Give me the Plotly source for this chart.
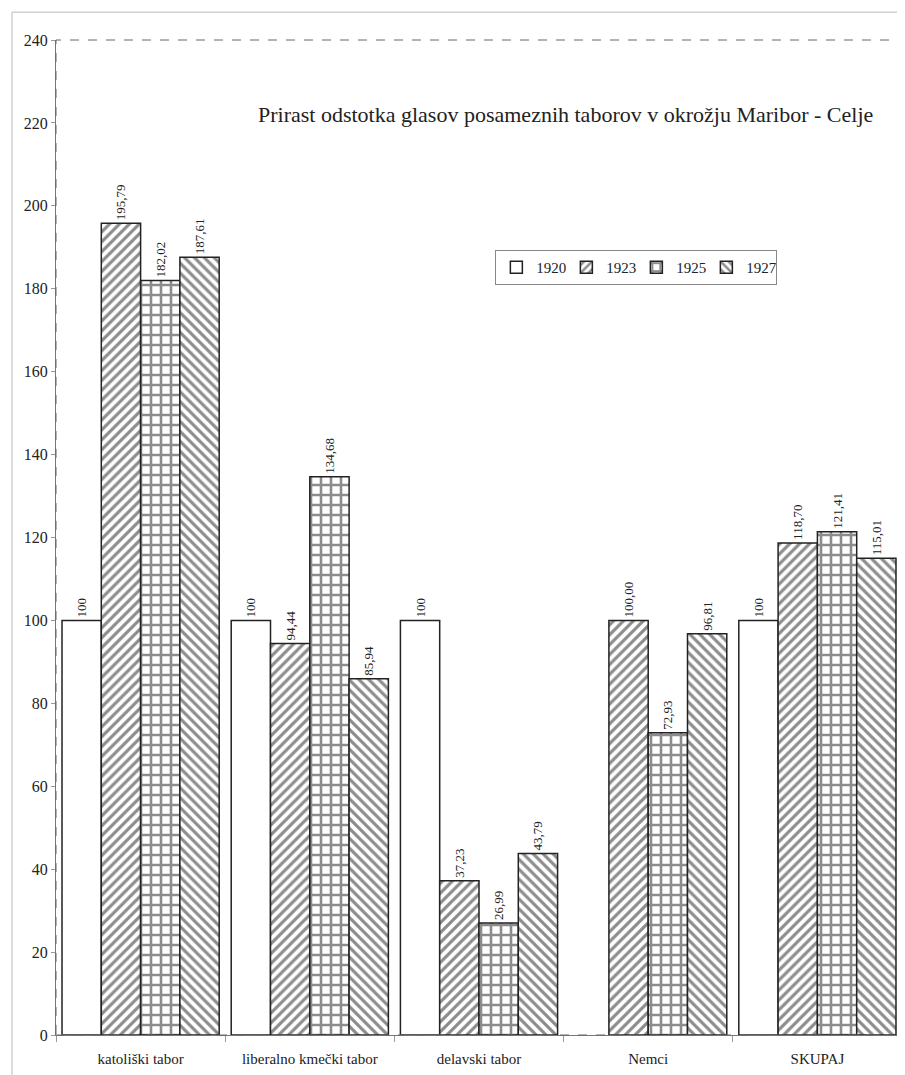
import plotly.graph_objects as go

categories = ["katoliški tabor", "liberalno kmečki tabor", "delavski tabor", "Nemci", "SKUPAJ"]
years = ["1920", "1923", "1925", "1927"]
v1920 = [100, 100, 100, None, 100]
v1923 = [195.79, 94.44, 37.23, 100.00, 118.70]
v1925 = [182.02, 134.68, 26.99, 72.93, 121.41]
v1927 = [187.61, 85.94, 43.79, 96.81, 115.01]
series = [v1920, v1923, v1925, v1927]
shapes_pat = ["", "/", "+", "\\"]
pat_size = [8, 7, 10, 7]

FONT = "Liberation Serif"

def fmt(v, year):
    if v is None:
        return ""
    if year == "1920":
        return f"{v:g}"
    return f"{v:.2f}".replace(".", ",")

fig = go.Figure()
for yr, vals, sh, ps in zip(years, series, shapes_pat, pat_size):
    fig.add_trace(go.Bar(
        name=yr, x=categories, y=vals,
        text=[fmt(v, yr) for v in vals],
        textposition="outside", textangle=-90,
        textfont=dict(family=FONT, size=13, color="#222"),
        cliponaxis=False,
        marker=dict(color="white",
                    line=dict(color="#222", width=1.5),
                    pattern=dict(shape=sh, fgcolor="#1a1a1a", bgcolor="white",
                                 size=ps, solidity=0.45)),
    ))

fig.update_layout(
    width=905, height=1075,
    margin=dict(l=48, r=11, t=32, b=47.5, autoexpand=False),
    paper_bgcolor="white", plot_bgcolor="white",
    barmode="group", bargap=0.071, bargroupgap=0,
    font=dict(family=FONT, size=15, color="#222"),
    showlegend=True,
    legend=dict(orientation="h", x=0.686, y=0.789, xanchor="center", yanchor="top",
                bordercolor="#888", borderwidth=1, bgcolor="white",
                font=dict(family=FONT, size=15, color="#222"),
                itemwidth=30, entrywidth=25, entrywidthmode="pixels", tracegroupgap=0),
    xaxis=dict(showgrid=False, ticks="outside", tickson="boundaries", ticklen=6,
               tickcolor="#999", showline=True, linecolor="#777", ticklabelstandoff=10,
               tickfont=dict(family=FONT, size=15, color="#222")),
    yaxis=dict(range=[0, 240], dtick=20, showgrid=False, ticks="outside", ticklen=4,
               tickcolor="#999", showline=True, linecolor="#777", zeroline=False,
               tickfont=dict(family=FONT, size=16, color="#222")),
    shapes=[
        dict(type="rect", xref="paper", yref="paper", x0=0, x1=1, y0=0, y1=1,
             line=dict(color="#666", width=1, dash="dash"), layer="above"),
        dict(type="line", xref="paper", yref="paper", x0=-0.052, x1=1.05, y0=1.028, y1=1.028,
             line=dict(color="#bbb", width=1)),
        dict(type="line", xref="paper", yref="paper", x0=-0.052, x1=-0.052, y0=1.028, y1=-0.06,
             line=dict(color="#bbb", width=1)),
    ],
    annotations=[
        dict(text="Prirast odstotka glasov posameznih taborov v okrožju Maribor - Celje",
             xref="paper", yref="paper", x=0.602, y=0.925, xanchor="center", yanchor="middle",
             showarrow=False, font=dict(family=FONT, size=22, color="#222")),
    ],
)

fig.write_html("out.html")
